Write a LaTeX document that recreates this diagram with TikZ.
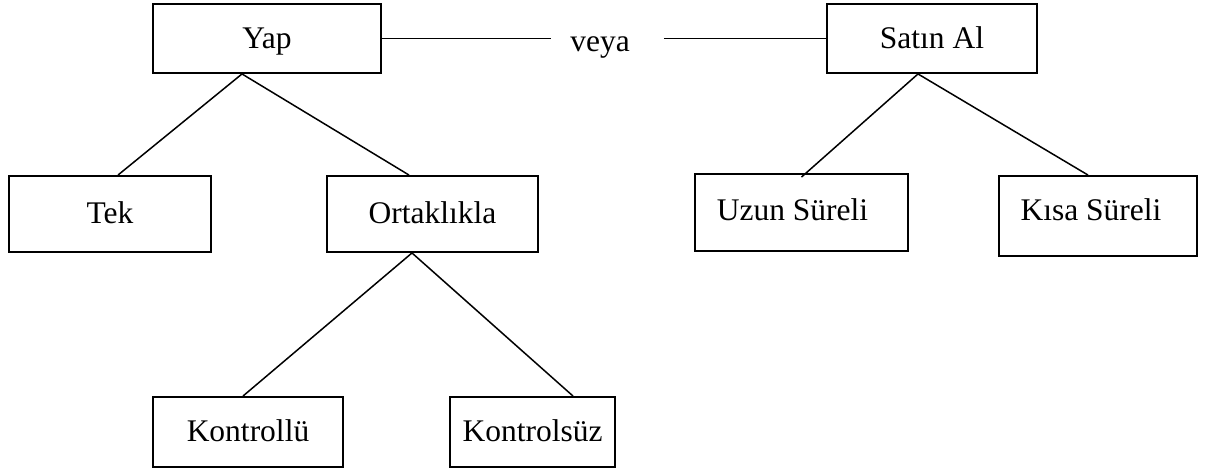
\documentclass[tikz,border=0pt]{standalone}
\usepackage{fontspec}
\setmainfont{Liberation Serif}
\usetikzlibrary{calc}
\begin{document}
\begin{tikzpicture}[x=1pt,y=-1pt,
  box/.style={draw=black, line width=1.9pt, inner sep=0pt, fill=white,
    text height=24pt, text depth=5pt,
    font=\fontsize{31.5}{36}\selectfont},
  link/.style={draw=black, line width=1.5pt},
  word/.style={inner sep=0pt, font=\fontsize{31.5}{36}\selectfont}]
\useasboundingbox[fill=white] (0,0) rectangle (1208,471);

% top level: make or buy
\node[box, minimum width=228pt, minimum height=69pt] (yap) at (267,38.5) {Yap};
\node[box, minimum width=210pt, minimum height=69pt] (satin) at (932,38.5) {Satın Al};
\node[word] (veya) at (600,47) {veya};

% second level
\node[box, minimum width=202pt, minimum height=76pt] (tek) at (110,214) {Tek};
\node[box, minimum width=211pt, minimum height=76pt] (ortak) at (432.5,214) {Ortaklıkla};
\node[box, minimum width=213pt, minimum height=77pt] (uzun) at (801.5,212.5) {\hspace*{-18pt}\raisebox{2pt}{Uzun Süreli}};
\node[box, minimum width=198pt, minimum height=80pt] (kisa) at (1098,216) {\hspace*{-14pt}\raisebox{5pt}{Kısa Süreli}};

% third level
\node[box, minimum width=190pt, minimum height=70pt] (kontrollu) at (248,432) {Kontrollü};
\node[box, minimum width=165pt, minimum height=70pt] (kontrolsuz) at (532.5,432) {Kontrolsüz};

% connectors
\draw[link] (yap.east) -- ([xshift=-19pt]veya.west |- yap.east);
\draw[link] ([xshift=34pt]veya.east |- satin.west) -- (satin.west);

\draw[link] ([xshift=-25pt]yap.south) -- ([xshift=8pt]tek.north);
\draw[link] ([xshift=-25pt]yap.south) -- ([xshift=-23.5pt]ortak.north);
\draw[link] ([xshift=-20.5pt]ortak.south) -- ([xshift=-5pt]kontrollu.north);
\draw[link] ([xshift=-20.5pt]ortak.south) -- ([xshift=40.5pt]kontrolsuz.north);
\draw[link] ([xshift=-14pt]satin.south) -- ([yshift=-4pt]uzun.north);
\draw[link] ([xshift=-14pt]satin.south) -- ([xshift=-10pt]kisa.north);
\end{tikzpicture}
\end{document}
